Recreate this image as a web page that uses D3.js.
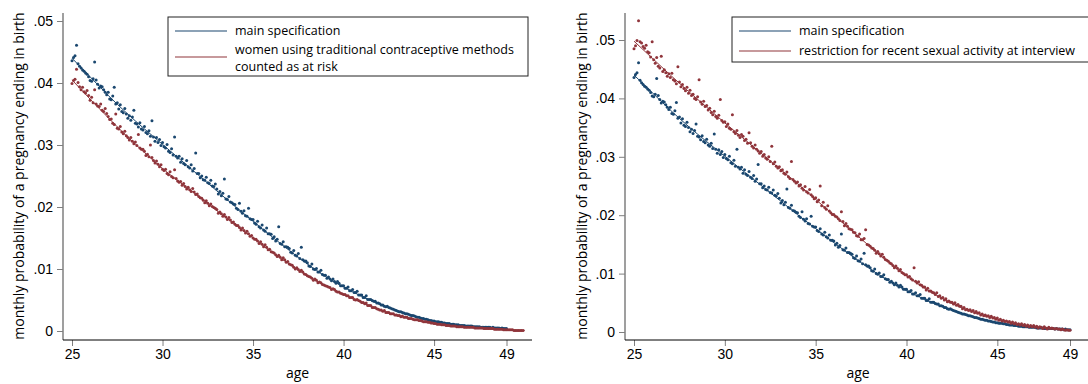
<!DOCTYPE html>
<html lang="en">
<head>
<meta charset="UTF-8">
<title>Monthly probability of a pregnancy ending in birth</title>
<script src="https://d3js.org/d3.v7.min.js"></script>
<style>
  body { margin: 0; background: #fff; }
  svg { display: block; font-family: "Open Sans", sans-serif; }
  .tick text { font-size: 14px; fill: #000; }
  .legend text { font-size: 12.5px; fill: #000; }
</style>
</head>
<body>
<svg id="chart" width="1088" height="384"></svg>
<script>
// monthly series, first point at age 25, one value per month
// values are in units of 0.0001
const startAge = 25;

const mainSpec = [
  436,441,444,461,431,427,424,421,419,416,414,410,
  404,403,407,434,405,398,392,395,394,389,385,381,
  385,374,373,379,393,366,368,358,365,354,352,359,
  350,343,347,340,345,356,335,334,329,336,326,324,
  330,320,318,323,314,339,313,306,312,304,309,299,
  304,297,295,301,290,288,294,284,313,282,279,282,
  272,278,270,268,275,265,263,268,258,262,287,254,
  254,247,250,244,243,248,239,238,243,234,233,237,
  229,221,225,218,222,245,213,212,217,208,207,205,
  204,198,196,206,193,190,194,186,185,198,181,180,
  180,174,172,177,168,166,171,163,161,166,157,157,
  156,149,152,145,148,168,141,140,144,136,136,135,
  133,127,126,130,122,121,125,117,135,115,113,113,
  110,105,104,108,100,99,101,95,95,98,91,90,
  90,85,87,84,81,84,80,77,80,77,73,73,
  73,69,69,71,65,65,67,62,62,64,58,58,
  58,54,54,57,51,51,51,49,48,48,45,45,
  44,42,42,40,39,40,38,37,36,35,34,33,
  32,31,31,30,29,28,28,27,26,25,25,24,
  23,22,22,21,20,20,19,19,18,17,17,16,
  16,15,15,15,14,14,13,13,12,12,12,11,
  11,11,10,10,10,9,9,9,9,8,8,8,
  8,8,7,7,7,7,7,6,6,6,6,6,
  6,6,5,6,5,5,5,5,4,5,4,4,
  4
];

const tradRisk = [
  399,404,406,422,401,394,389,393,386,384,388,380,
  372,377,368,389,366,363,362,366,356,354,359,351,
  346,341,342,335,333,350,327,326,330,321,318,322,
  315,312,308,312,306,302,305,299,317,295,293,293,
  290,283,285,281,300,280,275,271,274,269,265,268,
  261,259,261,254,252,257,249,247,260,246,242,240,
  241,235,238,233,229,232,228,225,230,224,220,221,
  217,215,214,211,207,210,206,202,205,201,199,198,
  196,190,192,189,185,188,184,180,183,179,175,176,
  172,170,170,167,163,166,162,158,161,157,153,154,
  150,148,148,145,141,144,140,136,139,135,131,132,
  128,127,126,123,120,122,119,115,118,115,111,112,
  108,107,106,103,100,102,99,96,98,95,92,91,
  89,88,87,85,82,84,82,78,79,78,75,74,
  73,72,71,70,67,68,67,64,63,63,61,60,
  59,59,57,57,54,54,54,51,50,51,49,48,
  46,46,44,45,41,41,41,38,38,38,36,35,
  34,34,32,33,30,30,30,28,28,28,26,26,
  25,25,23,24,22,22,22,20,20,20,19,18,
  18,18,17,17,16,15,15,15,14,14,13,13,
  12,12,11,11,11,10,10,10,9,9,9,8,
  8,8,8,7,7,7,7,7,6,6,6,6,
  6,6,6,5,5,5,5,5,5,4,4,4,
  4,4,4,4,3,3,3,3,3,3,2,2,
  2,2,2,2,2,1,1,1,1,1,1,1
];

const recentSex = [
  485,490,499,533,497,495,489,486,491,480,478,471,
  497,466,460,470,455,452,472,446,449,444,438,442,
  436,443,432,430,425,454,428,420,424,417,413,419,
  409,414,405,407,400,398,403,432,394,390,395,386,
  388,380,383,376,372,378,369,366,371,398,362,359,
  360,352,356,349,347,372,343,340,345,337,333,338,
  335,328,330,323,341,324,318,315,320,313,310,306,
  309,301,304,298,296,300,292,318,288,291,284,281,
  283,276,278,272,270,274,266,263,292,261,258,255,
  257,250,252,246,243,249,240,238,244,235,232,228,
  230,223,226,250,216,222,213,210,216,207,204,201,
  201,198,197,194,191,206,189,182,186,181,177,176,
  175,171,170,165,164,168,158,158,160,175,150,149,
  147,144,143,140,135,138,134,130,133,128,124,123,
  121,118,117,114,110,113,109,105,107,102,100,98,
  98,94,95,91,89,110,87,84,86,81,80,77,
  77,72,75,70,70,68,67,64,67,61,62,58,
  59,55,57,52,53,51,51,48,50,46,47,44,
  44,40,42,38,39,37,38,35,37,33,35,32,
  33,29,31,28,29,27,28,25,27,24,25,22,
  24,20,22,19,20,18,19,17,18,15,17,14,
  16,13,14,12,14,11,13,10,12,9,11,9,
  11,8,10,7,9,8,6,9,7,5,8,6,
  7,6,5,6,5,5,4,5,4,3,4,3,
  3
];

// fitted curves, one value per year of age (units of 0.0001)
const fitAges = [25,26,27,28,29,30,31,32,33,34,35,36,37,38,39,40,41,42,43,44,45,46,47,48,49,50];
const mainFit = [440,410,380,352,326,301,276,251,226,201,177,153,130,108,88,71,56,43,32,23,16,11,8,6,4];
const tradFit = [405,374,344,315,288,262,239,217,194,172,150,128,108,89,73,59,46,34,25,18,12,8,6,4,2,1];
const recentFit = [498,469,440,412,385,358,332,306,280,254,227,200,173,146,120,96,75,57,42,31,22,14,9,6,3];

const xTicks = [25, 30, 35, 40, 45, 49];
const yTicks = [0, 0.01, 0.02, 0.03, 0.04, 0.05];

const labelMain = ["main specification"];
const labelTrad = ["women using traditional contraceptive methods", "counted as at risk"];
const labelRecent = ["restriction for recent sexual activity at interview"];

const blue = "#1a476f";
const red = "#90353b";

const svg = d3.select("#chart");
const fmt = d => d === 0 ? "0" : d3.format(".2f")(d).replace(/^0/, "");

function toPoints(vals) {
  return vals.map((v, i) => ({ age: startAge + i / 12, p: v / 10000 }));
}
function toFit(vals) {
  return vals.map((v, i) => ({ age: fitAges[i], p: v / 10000 }));
}

function drawPanel(o) {
  const g = svg.append("g");
  const x = d3.scaleLinear().domain([25, 49]).range(o.xRange);
  const y = d3.scaleLinear().domain([0, 0.05]).range(o.yRange);

  // y axis
  const ya = g.append("g")
    .attr("transform", `translate(${o.left},0)`)
    .call(d3.axisLeft(y).tickValues(yTicks).tickSize(6).tickPadding(4).tickFormat(fmt));
  ya.select(".domain").remove();
  ya.selectAll(".tick line").attr("stroke", "#7f7f7f");
  g.append("line")
    .attr("x1", o.left).attr("x2", o.left)
    .attr("y1", o.top).attr("y2", o.bottom)
    .attr("stroke", "#7f7f7f").attr("stroke-width", 1.5);

  // x axis
  const xa = g.append("g")
    .attr("transform", `translate(0,${o.bottom})`)
    .call(d3.axisBottom(x).tickValues(xTicks).tickSize(6).tickPadding(3).tickFormat(d3.format("d")));
  xa.select(".domain").remove();
  xa.selectAll(".tick line").attr("stroke", "#7f7f7f");
  g.append("line")
    .attr("x1", o.left).attr("x2", o.right)
    .attr("y1", o.bottom).attr("y2", o.bottom)
    .attr("stroke", "#000").attr("stroke-width", 1);

  // titles
  g.append("text")
    .attr("x", (o.left + o.titleRight) / 2).attr("y", 378)
    .attr("text-anchor", "middle").attr("font-size", 14)
    .text("age");
  g.append("text")
    .attr("transform", `translate(${o.ytX},176) rotate(-90)`)
    .attr("text-anchor", "middle").attr("dominant-baseline", "central")
    .attr("font-size", 14)
    .text("monthly probability of a pregnancy ending in birth");

  const line = d3.line().x(d => x(d.age)).y(d => y(d.p)).curve(d3.curveMonotoneX);

  o.series.forEach(s => {
    g.append("g").selectAll("circle")
      .data(toPoints(s.dots))
      .join("circle")
      .attr("cx", d => x(d.age)).attr("cy", d => y(d.p))
      .attr("r", 1.5).attr("fill", s.color);
    g.append("path")
      .datum(toFit(s.fit))
      .attr("d", line)
      .attr("fill", "none").attr("stroke", s.color).attr("stroke-width", 1);
  });

  // legend
  const lg = g.append("g").attr("class", "legend");
  lg.append("rect")
    .attr("x", o.legend.x).attr("y", o.legend.y)
    .attr("width", o.legend.w).attr("height", o.legend.h)
    .attr("fill", "#fff").attr("stroke", "#222").attr("stroke-width", 1);
  o.series.forEach((s, i) => {
    const ly = o.legend.rows[i];
    lg.append("line")
      .attr("x1", o.legend.x + 7).attr("x2", o.legend.x + 59)
      .attr("y1", ly).attr("y2", ly)
      .attr("stroke", s.color).attr("stroke-width", 1.2);
    const base = s.label.length > 1 ? ly - 3.5 : ly + 4;
    s.label.forEach((t, k) => {
      lg.append("text")
        .attr("x", o.legend.x + 67)
        .attr("y", base + k * 17)
        .text(t);
    });
  });
}

drawPanel({
  left: 63, right: 532, top: 13, bottom: 340, titleRight: 532, ytX: 18,
  xRange: [72, 506.5], yRange: [331, 21],
  legend: { x: 168, y: 17, w: 360, h: 59, rows: [31, 57] },
  series: [
    { dots: mainSpec, fit: mainFit, color: blue, label: labelMain },
    { dots: tradRisk, fit: tradFit, color: red, label: labelTrad }
  ]
});

drawPanel({
  left: 625, right: 1088, top: 13, bottom: 340, titleRight: 1091, ytX: 581,
  xRange: [634, 1070], yRange: [332, 40],
  legend: { x: 732, y: 17, w: 360, h: 45, rows: [31, 51] },
  series: [
    { dots: mainSpec, fit: mainFit, color: blue, label: labelMain },
    { dots: recentSex, fit: recentFit, color: red, label: labelRecent }
  ]
});
</script>
</body>
</html>
